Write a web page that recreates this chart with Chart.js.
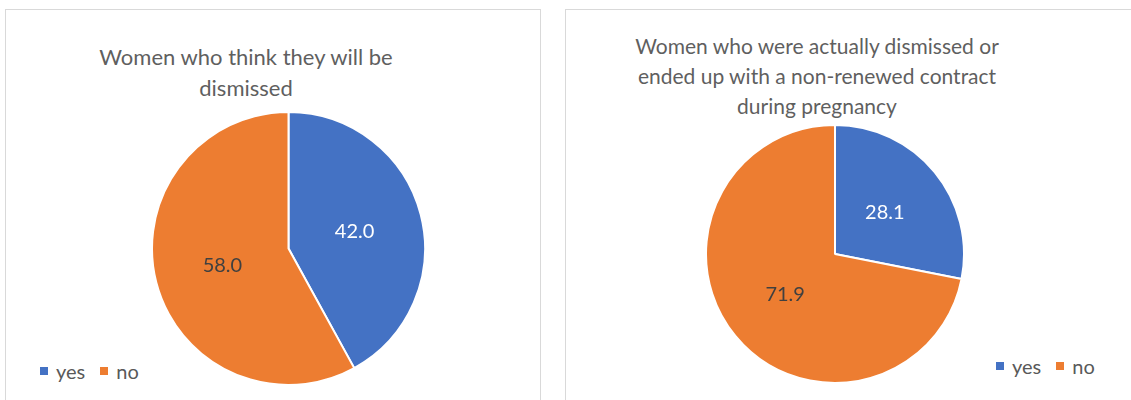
<!DOCTYPE html>
<html>
<head>
<meta charset="utf-8">
<script src="https://cdn.jsdelivr.net/npm/chart.js@4/dist/chart.umd.min.js"></script>
<style>
  html, body { margin: 0; padding: 0; background: #ffffff; }
  body { width: 1131px; height: 400px; position: relative; overflow: hidden; font-family: Lato, "Open Sans", sans-serif; }
  .panel { position: absolute; border: 1px solid #d9d9d9; background: #fff; box-sizing: border-box; }
  .title { position: absolute; text-align: center; color: #5f5f5f; font-size: 21.5px; line-height: 31px; white-space: nowrap; }
  .legend { position: absolute; display: flex; align-items: center; color: #595959; font-size: 20px; line-height: 22px; }
  .legend .item { display: flex; align-items: center; }
  .legend .swatch { width: 8px; height: 8px; margin-right: 8px; }
  canvas { position: absolute; }
</style>
</head>
<body>
<div class="panel" style="left:5px; top:9px; width:536px; height:420px;"></div>
<div class="panel" style="left:565px; top:9px; width:600px; height:420px;"></div>

<div id="titleLeft" class="title" style="left:46px; width:400px; top:41px; font-size:22px;"></div>
<div id="titleRight" class="title" style="left:567px; width:500px; top:31px; line-height:30px; font-size:21px;"></div>

<canvas id="pieLeft" width="275" height="275" style="left:151px; top:111px;"></canvas>
<canvas id="pieRight" width="260" height="260" style="left:705px; top:124px;"></canvas>

<div id="legendLeft" class="legend" style="left:40px; top:360px;"></div>
<div id="legendRight" class="legend" style="left:996px; top:355px;"></div>

<script>
// Answer categories shared by both pies
const categories = ['yes', 'no'];
// Share of women (%) expecting to be dismissed
const thinkDismissed = [42.0, 58.0];
// Share of women (%) actually dismissed or not renewed during pregnancy
const actuallyDismissed = [28.1, 71.9];

const titleThink = ['Women who think they will be', 'dismissed'];
const titleActual = ['Women who were actually dismissed or', 'ended up with a non-renewed contract', 'during pregnancy'];

const sliceColors = ['#4472C4', '#ED7D31'];
const labelColors = ['#ffffff', '#404040'];

// Writes the value of each slice halfway along its radius
const sliceValueLabels = {
  id: 'sliceValueLabels',
  afterDatasetsDraw(chart) {
    const ctx = chart.ctx;
    const meta = chart.getDatasetMeta(0);
    const values = chart.data.datasets[0].data;
    ctx.save();
    ctx.font = '20px Lato, "Open Sans", sans-serif';
    ctx.textAlign = 'center';
    ctx.textBaseline = 'middle';
    meta.data.forEach((arc, i) => {
      const p = arc.getCenterPoint();
      ctx.fillStyle = labelColors[i];
      ctx.fillText(values[i].toFixed(1), p.x, p.y);
    });
    ctx.restore();
  }
};

function makePie(canvasId, values) {
  return new Chart(document.getElementById(canvasId), {
    type: 'pie',
    data: {
      labels: categories,
      datasets: [{
        data: values,
        backgroundColor: sliceColors,
        borderColor: '#ffffff',
        borderWidth: 2,
        hoverOffset: 0
      }]
    },
    options: {
      responsive: false,
      animation: false,
      layout: { padding: 0 },
      plugins: {
        legend: { display: false },
        title: { display: false },
        tooltip: { enabled: false }
      }
    },
    plugins: [sliceValueLabels]
  });
}

function fillTitle(id, lines) {
  const el = document.getElementById(id);
  lines.forEach((line, i) => {
    if (i) el.appendChild(document.createElement('br'));
    el.appendChild(document.createTextNode(line));
  });
}

function fillLegend(id) {
  const el = document.getElementById(id);
  categories.forEach((cat, i) => {
    const item = document.createElement('div');
    item.className = 'item';
    if (i) item.style.marginLeft = '15px';
    const sw = document.createElement('span');
    sw.className = 'swatch';
    sw.style.background = sliceColors[i];
    item.appendChild(sw);
    item.appendChild(document.createTextNode(cat));
    el.appendChild(item);
  });
}

fillTitle('titleLeft', titleThink);
fillTitle('titleRight', titleActual);
fillLegend('legendLeft');
fillLegend('legendRight');
makePie('pieLeft', thinkDismissed);
makePie('pieRight', actuallyDismissed);
</script>
</body>
</html>
